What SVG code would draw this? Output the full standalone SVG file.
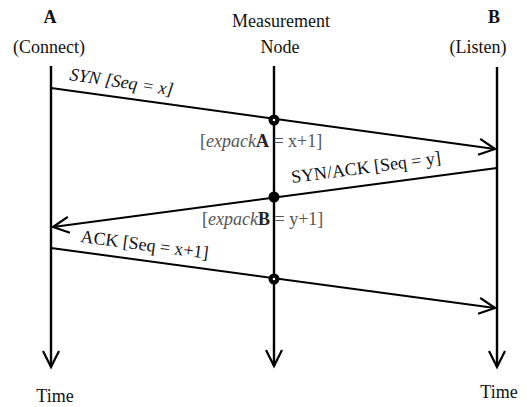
<svg xmlns="http://www.w3.org/2000/svg" width="527" height="407" viewBox="0 0 527 407">
<style>
text{font-family:"Liberation Serif","Times New Roman",serif;font-size:18px;fill:#111}
.ctr{text-anchor:middle}
.lbl{fill:#555}
.life{stroke:#000;stroke-width:2.4;fill:none}
.msg{stroke:#000;stroke-width:2;fill:none}
</style>
<defs>
<marker id="vhead" markerUnits="userSpaceOnUse" markerWidth="24" markerHeight="24" viewBox="-20 -12 24 24" refX="0" refY="0" orient="auto">
<path d="M-16,-8 L0,0 L-16,8" fill="none" stroke="#000" stroke-width="2.2"/>
</marker>
</defs>
<g id="nodeA">
<text class="ctr" x="50" y="23" font-weight="bold">A</text>
<text class="ctr" x="49" y="53">(Connect)</text>
<line class="life" x1="51" y1="66" x2="51" y2="367" marker-end="url(#vhead)"/>
<text class="ctr" x="55" y="402">Time</text>
</g>
<g id="nodeM">
<text class="ctr" x="281" y="27">Measurement</text>
<text class="ctr" x="280" y="53">Node</text>
<line class="life" x1="274" y1="66" x2="274" y2="366" marker-end="url(#vhead)"/>
</g>
<g id="nodeB">
<text class="ctr" x="494" y="23" font-weight="bold">B</text>
<text class="ctr" x="478" y="53">(Listen)</text>
<line class="life" x1="497" y1="67" x2="497" y2="367" marker-end="url(#vhead)"/>
<text class="ctr" x="499" y="398">Time</text>
</g>
<g id="connectors">
<line class="msg" x1="51" y1="88" x2="495" y2="149" marker-end="url(#vhead)"/>
<line class="msg" x1="497" y1="168" x2="53" y2="227" marker-end="url(#vhead)"/>
<line class="msg" x1="51" y1="248" x2="495" y2="308" marker-end="url(#vhead)"/>
<circle cx="274" cy="120" r="5.5" fill="#000"/>
<circle cx="274" cy="120" r="1.3" fill="#fff"/>
<circle cx="274" cy="197" r="5.5" fill="#000"/>
<circle cx="274" cy="279" r="5.5" fill="#000"/>
<circle cx="274" cy="279" r="1.3" fill="#fff"/>
<text x="69" y="80" font-style="italic" transform="rotate(8.5 69 80)">SYN [Seq = x]</text>
<text x="292" y="183" transform="rotate(-7.5 292 183)">SYN/ACK [Seq = y]</text>
<text x="80" y="242" transform="rotate(7.5 80 242)">ACK [Seq = x+1]</text>
<text class="lbl" x="200" y="147">[<tspan font-style="italic">expack</tspan><tspan font-weight="bold" fill="#222">A</tspan> = x+1]</text>
<text class="lbl" x="202" y="225">[<tspan font-style="italic">expack</tspan><tspan font-weight="bold" fill="#222">B</tspan> = y+1]</text>
</g>
</svg>
